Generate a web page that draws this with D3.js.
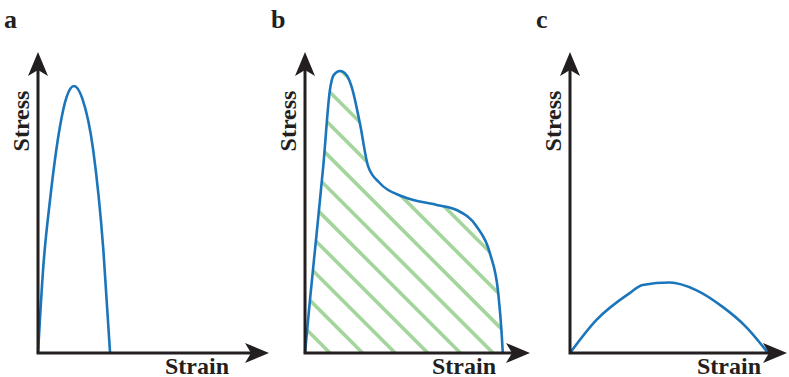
<!DOCTYPE html>
<html>
<head>
<meta charset="utf-8">
<script src="https://cdn.jsdelivr.net/npm/d3@7"></script>
<style>
  html, body { margin: 0; padding: 0; background: #fff; }
  svg { display: block; }
  text { font-family: "Liberation Serif", "Times New Roman", serif; font-weight: bold; fill: #231f20; }
</style>
</head>
<body>
<script>
// panel letters and axis titles
const panels      = ['a', 'b', 'c'];
const xTitle      = 'Strain';
const yTitle      = 'Stress';

// curve values, in arbitrary units (0..100 along each axis)
const strainA = [0, 2.3, 5.2, 9.5, 12.4, 15.6, 19.2, 23.9, 28.3, 31.2];
const stressA = [0, 28.7, 50.8, 75.2, 85.1, 88.7, 84.5, 67.4, 34.2, 0];

const strainB = [0, 2.2, 5.2, 8.1, 11.1, 12.8, 15.6, 18.6, 20.7, 24.4, 28.1, 33.3, 43.7, 58.5, 67.4, 76.3, 82.2, 85.9, 87.4, 87.9];
const stressB = [0, 17.6, 39.9, 61.9, 87.5, 92.4, 93.7, 92.2, 88.5, 76.3, 61.9, 56.4, 51.9, 49.2, 47.5, 42, 33.1, 19.8, 6.5, 0];

const strainC = [0, 12.2, 27.5, 33.5, 45.9, 58.1, 70.2, 81.1, 91.3];
const stressC = [0, 11, 19.9, 22.6, 23.4, 20.9, 15.4, 8.7, 0];

// which panel gets the hatched area (toughness)
const hatched = [false, true, false];

const width  = 789,
      height = 377,
      axisColor  = '#231f20',
      curveColor = '#1b75bb',
      hatchColor = '#a3d59c',
      yBottom = 353,
      yTop    = 52,
      origins = [38, 305, 570],
      tips    = [269, 530, 787];

const series = [
  d3.zip(strainA, stressA),
  d3.zip(strainB, stressB),
  d3.zip(strainC, stressC)
];

const svg = d3.select('body').append('svg')
  .attr('width', width)
  .attr('height', height);

const defs = svg.append('defs');

panels.forEach((name, i) => {
  const x = d3.scaleLinear().domain([0, 100]).range([origins[i], tips[i]]);
  const y = d3.scaleLinear().domain([0, 100]).range([yBottom, yTop]);
  const g = svg.append('g').attr('class', 'panel-' + name);

  const line = d3.line()
    .x(d => x(d[0]))
    .y(d => y(d[1]))
    .curve(d3.curveMonotoneX);

  // hatched area under the curve, clipped to the curve outline
  if (hatched[i]) {
    const area = d3.area()
      .x(d => x(d[0]))
      .y0(y(0))
      .y1(d => y(d[1]))
      .curve(d3.curveMonotoneX);

    defs.append('clipPath').attr('id', 'clip-' + name)
      .append('path').attr('d', area(series[i]));

    // 45 degree lines, y - x = c
    const step = 32.6, c0 = 23;
    const offsets = d3.range(0, 14).map(k => c0 - step * k);
    g.append('g')
      .attr('clip-path', `url(#clip-${name})`)
      .selectAll('line')
      .data(offsets)
      .join('line')
        .attr('x1', origins[i] - 20)
        .attr('y1', c => origins[i] - 20 + c)
        .attr('x2', tips[i])
        .attr('y2', c => tips[i] + c)
        .attr('stroke', hatchColor)
        .attr('stroke-width', 3.6);
  }

  g.append('path')
    .attr('d', line(series[i]))
    .attr('fill', 'none')
    .attr('stroke', curveColor)
    .attr('stroke-width', 2.6)
    .attr('stroke-linejoin', 'round');

  // axes with arrow heads
  const x0 = x(0), y0 = y(0), xt = x(100), yt = y(100);
  g.append('path')
    .attr('d', `M${x0},${yt + 16}L${x0},${y0}L${xt - 16},${y0}`)
    .attr('fill', 'none')
    .attr('stroke', axisColor)
    .attr('stroke-width', 3)
    .attr('stroke-linejoin', 'miter');

  g.append('path')
    .attr('d', `M${x0},${yt}L${x0 - 10},${yt + 24}L${x0},${yt + 18}L${x0 + 10},${yt + 24}Z`)
    .attr('fill', axisColor);

  g.append('path')
    .attr('d', `M${xt},${y0}L${xt - 24},${y0 - 10}L${xt - 18},${y0}L${xt - 24},${y0 + 10}Z`)
    .attr('fill', axisColor);

  // labels
  g.append('text')
    .attr('x', x0 - 34)
    .attr('y', 28)
    .style('font-size', '26px')
    .text(name);

  g.append('text')
    .attr('x', x0 + 127)
    .attr('y', 374)
    .style('font-size', '24px')
    .text(xTitle);

  g.append('text')
    .attr('transform', `translate(${x0 - 9},121) rotate(-90)`)
    .attr('text-anchor', 'middle')
    .style('font-size', '24px')
    .text(yTitle);
});
</script>
</body>
</html>
